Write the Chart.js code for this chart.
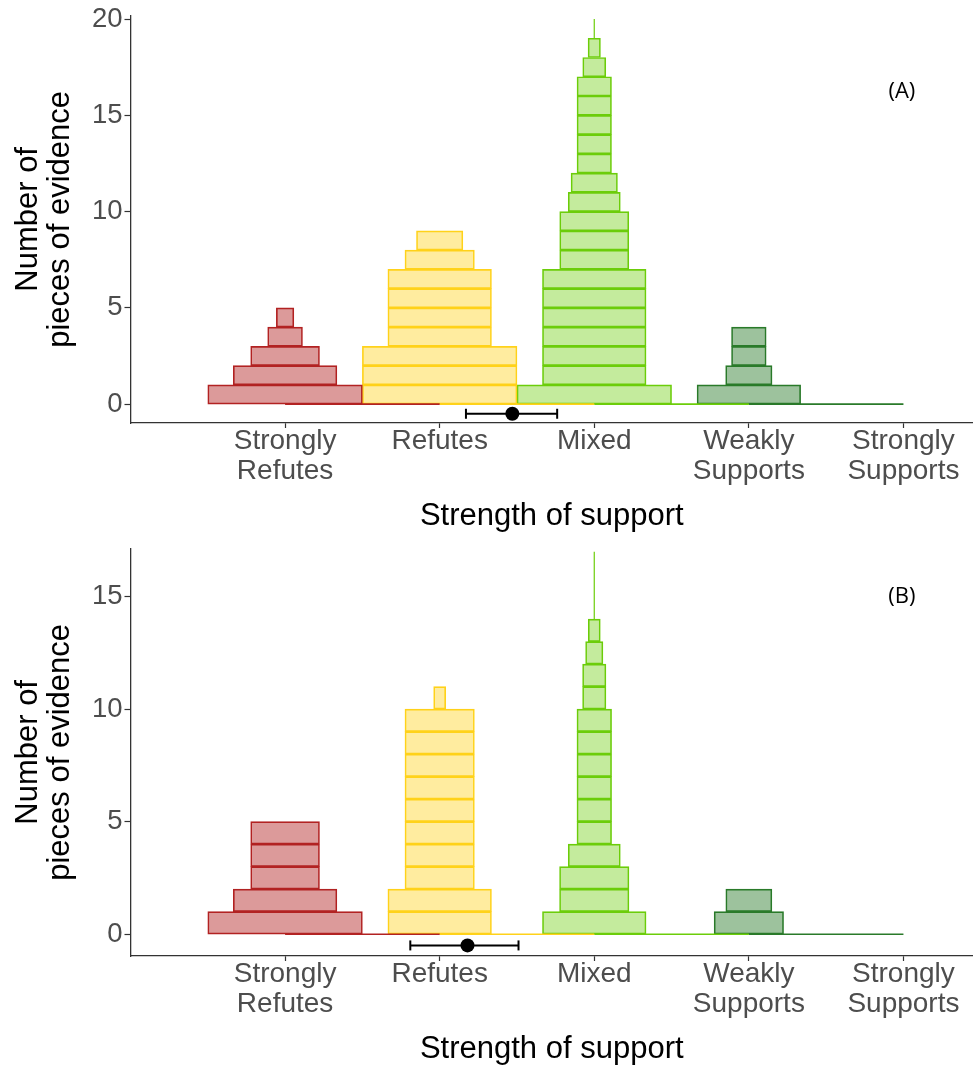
<!DOCTYPE html>
<html>
<head>
<meta charset="utf-8">
<title>Strength of support</title>
<script src="https://cdn.jsdelivr.net/npm/chart.js@4"></script>
<style>
  html, body { margin: 0; padding: 0; background: #ffffff; }
  .panel { position: relative; width: 973px; height: 533px; }
  canvas { display: block; }
</style>
</head>
<body>
<div class="panel"><canvas id="chartA" width="973" height="533"></canvas></div>
<div class="panel"><canvas id="chartB" width="973" height="533"></canvas></div>
<script>
// ---- categories and axes ----
const categoryLabels = [['Strongly', 'Refutes'], ['Refutes'], ['Mixed'], ['Weakly', 'Supports'], ['Strongly', 'Supports']];
const categoryPositions = [1, 2, 3, 4, 5];
const yTicksA = [0, 5, 10, 15, 20];
const yTicksB = [0, 5, 10, 15];

// ---- panel (A): width of each piece of evidence, stacked bottom to top ----
const piecesA_stronglyRefutes = [1.0, 0.67, 0.445, 0.225, 0.113];
const piecesA_refutes = [1.0, 1.0, 1.0, 0.67, 0.67, 0.67, 0.67, 0.449, 0.30];
const piecesA_mixed = [1.0, 0.67, 0.67, 0.67, 0.67, 0.67, 0.67, 0.447, 0.447, 0.447,
                       0.337, 0.30, 0.223, 0.223, 0.223, 0.223, 0.223, 0.149, 0.08, 0];
const piecesA_weaklySupports = [0.67, 0.30, 0.224, 0.224];
const piecesA_stronglySupports = [];
const meanA = 2.47;
const intervalA = [2.17, 2.76];

// ---- panel (B) ----
const piecesB_stronglyRefutes = [1.0, 0.67, 0.445, 0.445, 0.445];
const piecesB_refutes = [0.67, 0.67, 0.449, 0.449, 0.449, 0.449, 0.449, 0.449, 0.449, 0.449, 0.078];
const piecesB_mixed = [0.67, 0.449, 0.449, 0.337, 0.224, 0.224, 0.224, 0.224, 0.224, 0.224,
                       0.151, 0.151, 0.112, 0.078, 0, 0, 0];
const piecesB_weaklySupports = [0.449, 0.298];
const piecesB_stronglySupports = [];
const meanB = 2.18;
const intervalB = [1.81, 2.51];

// ---- colours per category ----
const lineColors = ['#b22222', '#ffd21a', '#6ccd0a', '#2a7a2a', '#1f6b1f'];
const fillColors = ['rgba(178,34,34,0.46)', 'rgba(255,210,26,0.42)', 'rgba(108,205,10,0.40)',
                    'rgba(42,122,42,0.46)', 'rgba(31,107,31,0.46)'];

const FONT = "'Liberation Sans', Arial, Helvetica, sans-serif";
const TICK_GREY = '#4d4d4d';
const AXIS_DARK = '#333333';

// Builds the stacked boxes, zero-width spikes, baselines and the interval.
function buildDatasets(pieceLists, mean, interval) {
  const datasets = [];
  pieceLists.forEach((pieces, i) => {
    const c = categoryPositions[i];
    const boxes = [];
    let spikeStart = null;
    pieces.forEach((w, row) => {
      if (w > 0) {
        boxes.push({ x: [c - w / 2, c + w / 2], y: row + 0.5 });
      } else if (spikeStart === null) {
        spikeStart = row;
      }
    });
    if (boxes.length) {
      datasets.push({
        type: 'bar', indexAxis: 'y', data: boxes,
        backgroundColor: fillColors[i], borderColor: lineColors[i],
        borderWidth: 1, borderSkipped: false,
        barPercentage: 1, categoryPercentage: 1, grouped: false, order: 3
      });
    }
    if (spikeStart !== null) {
      datasets.push({
        type: 'line', data: [{ x: c, y: spikeStart }, { x: c, y: pieces.length }],
        borderColor: lineColors[i], borderWidth: 1.2, pointRadius: 0, order: 2
      });
    }
    // baseline running to the next category
    if (i < categoryPositions.length - 1) {
      datasets.push({
        type: 'line', data: [{ x: c, y: 0 }, { x: categoryPositions[i + 1], y: 0 }],
        borderColor: lineColors[i], borderWidth: 1.6, pointRadius: 0, order: 2
      });
    }
  });
  // mean with interval
  datasets.push({
    type: 'line', data: [{ x: interval[0], y: -0.5 }, { x: interval[1], y: -0.5 }],
    borderColor: '#000', borderWidth: 2,
    pointStyle: 'line', pointRotation: 90, pointRadius: 5,
    pointBorderWidth: 2, pointBorderColor: '#000', clip: false, order: 1
  });
  datasets.push({
    type: 'scatter', data: [{ x: mean, y: -0.5 }],
    pointRadius: 7, pointBackgroundColor: '#000', pointBorderWidth: 0,
    clip: false, order: 0
  });
  return datasets;
}

const panelLabel = {
  id: 'panelLabel',
  afterDatasetsDraw(chart, args, opts) {
    const { ctx, scales } = chart;
    ctx.save();
    ctx.font = "22px 'Open Sans', 'Noto Sans', sans-serif";
    ctx.fillStyle = '#000';
    ctx.textAlign = 'center';
    ctx.textBaseline = 'middle';
    ctx.fillText(opts.text, scales.x.getPixelForValue(opts.x), scales.y.getPixelForValue(opts.y));
    ctx.restore();
  }
};

function makeChart(id, pieceLists, mean, interval, yMin, yMax, yTicks, label, labelY) {
  return new Chart(document.getElementById(id), {
    type: 'scatter',
    data: { datasets: buildDatasets(pieceLists, mean, interval) },
    plugins: [panelLabel],
    options: {
      responsive: false,
      animation: false,
      devicePixelRatio: 1,
      layout: { autoPadding: false, padding: { top: 15, right: 0, bottom: 0, left: 0 } },
      plugins: {
        legend: { display: false },
        tooltip: { enabled: false },
        panelLabel: { text: label, x: 4.99, y: labelY }
      },
      scales: {
        x: {
          type: 'linear', min: 0, max: 5.45, offset: false,
          afterBuildTicks: s => { s.ticks = categoryPositions.map(v => ({ value: v })); },
          afterFit: s => { s.height = 110; s.paddingLeft = 0; s.paddingRight = 0; },
          ticks: {
            callback: v => categoryLabels[categoryPositions.indexOf(v)],
            font: { family: FONT, size: 28, lineHeight: 1.08 },
            color: TICK_GREY, padding: -2, maxRotation: 0, autoSkip: false
          },
          grid: { display: true, drawOnChartArea: false, offset: false, tickLength: 5, tickColor: AXIS_DARK, tickWidth: 1.2 },
          border: { display: true, color: AXIS_DARK, width: 1.3 },
          title: {
            display: true, text: 'Strength of support', color: '#000',
            font: { family: FONT, size: 31, lineHeight: 1 }, padding: { top: 0, bottom: 1 }
          }
        },
        y: {
          type: 'linear', min: yMin, max: yMax, offset: false,
          afterBuildTicks: s => { s.ticks = yTicks.map(v => ({ value: v })); },
          afterFit: s => { s.width = 130.5; },
          ticks: { font: { family: FONT, size: 27.5, lineHeight: 1 }, color: TICK_GREY, padding: 2 },
          grid: { display: true, drawOnChartArea: false, offset: false, tickLength: 6, tickColor: AXIS_DARK, tickWidth: 1.2 },
          border: { display: true, color: AXIS_DARK, width: 1.3 },
          title: {
            display: true, text: ['Number of', 'pieces of evidence'], color: '#000',
            font: { family: FONT, size: 31, lineHeight: 1.05 }, padding: { top: 12, bottom: 0 }
          }
        }
      }
    }
  });
}

makeChart('chartA',
  [piecesA_stronglyRefutes, piecesA_refutes, piecesA_mixed, piecesA_weaklySupports, piecesA_stronglySupports],
  meanA, intervalA, -0.98, 20.17, yTicksA, '(A)', 16.2);
makeChart('chartB',
  [piecesB_stronglyRefutes, piecesB_refutes, piecesB_mixed, piecesB_weaklySupports, piecesB_stronglySupports],
  meanB, intervalB, -0.97, 17.13, yTicksB, '(B)', 15.0);
</script>
</body>
</html>
